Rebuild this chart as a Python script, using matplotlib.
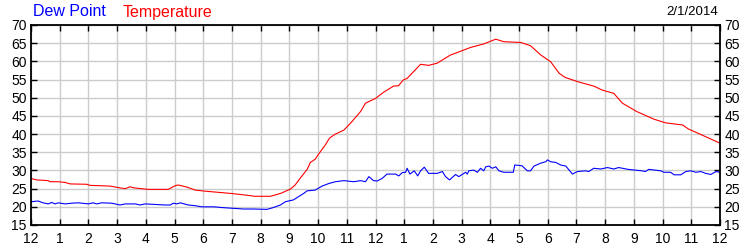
import matplotlib
matplotlib.use("Agg")
import matplotlib.pyplot as plt

plt.rcParams["font.family"] = ["Liberation Sans", "DejaVu Sans"]

# hours since midnight, temperature (F)
temp_hours = [0, 0.2, 0.6, 0.66, 0.95, 1.19, 1.36, 1.94, 2.06, 2.76, 3.1, 3.28, 3.45, 3.6,
              4.08, 4.78, 5.02, 5.13, 5.44, 5.72, 6.07, 6.36, 6.94, 7.4, 7.8, 8.34, 8.7,
              9.04, 9.2, 9.38, 9.62, 9.73, 9.9, 10.0, 10.25, 10.4, 10.6, 10.9, 11.13, 11.48,
              11.65, 12.0, 12.28, 12.63, 12.8, 12.97, 13.1, 13.57, 13.85, 14.15, 14.6, 15.07,
              15.3, 15.77, 16.19, 16.47, 17.06, 17.4, 17.75, 17.93, 18.1, 18.4, 18.6, 19.05,
              19.6, 19.9, 20.3, 20.6, 21.1, 21.7, 22.1, 22.7, 22.9, 23.3, 24.0]
temp = [27.8, 27.4, 27.2, 26.9, 26.9, 26.7, 26.3, 26.2, 25.9, 25.7, 25.2, 25.0, 25.5, 25.2,
        24.8, 24.8, 25.8, 26.0, 25.4, 24.6, 24.3, 24.1, 23.7, 23.3, 22.9, 22.9, 23.7,
        24.9, 26.0, 27.9, 30.3, 32.2, 33.1, 34.3, 37.0, 38.9, 40.0, 41.1, 43.0, 46.2,
        48.5, 49.8, 51.5, 53.2, 53.3, 54.9, 55.3, 59.2, 58.9, 59.5, 61.7, 63.1,
        63.8, 64.8, 66.1, 65.4, 65.2, 64.3, 61.8, 60.8, 59.9, 56.7, 55.6, 54.4,
        53.2, 52.1, 51.2, 48.5, 46.2, 44.1, 43.1, 42.5, 41.4, 40.0, 37.5]

# hours since midnight, dew point (F)
dew_hours = [0, 0.25, 0.42, 0.6, 0.72, 0.84, 0.95, 1.19, 1.42, 1.65, 2.0, 2.16, 2.29, 2.46,
             2.81, 3.1, 3.28, 3.63, 3.8, 3.98, 4.67, 4.85, 4.96, 5.08, 5.2, 5.48, 5.72,
             5.95, 6.36, 6.65, 6.83, 7.4, 7.75, 8.22, 8.4, 8.69, 8.86, 9.14, 9.32, 9.5,
             9.62, 9.9, 10.14, 10.37, 10.6, 10.9, 11.24, 11.48, 11.65, 11.77, 11.93, 12.06,
             12.23, 12.4, 12.7, 12.81, 12.93, 13.05, 13.1, 13.2, 13.35, 13.47, 13.57, 13.7,
             13.85, 14.15, 14.33, 14.44, 14.58, 14.79, 14.9, 15.14, 15.2, 15.25, 15.42,
             15.55, 15.66, 15.77, 15.84, 15.95, 16.07, 16.19, 16.3, 16.47, 16.65, 16.8,
             16.85, 17.1, 17.29, 17.4, 17.52, 17.75, 17.93, 17.99, 18.1, 18.28, 18.45,
             18.63, 18.86, 19.03, 19.32, 19.43, 19.6, 19.85, 20.08, 20.3, 20.47, 20.8,
             21.28, 21.4, 21.52, 21.94, 22.05, 22.28, 22.4, 22.63, 22.81, 22.98, 23.16,
             23.33, 23.5, 23.68, 23.86, 24.0]
dew = [21.4, 21.6, 21.1, 20.8, 21.2, 20.8, 21.1, 20.8, 21.0, 21.1, 20.8, 21.1, 20.8, 21.1,
       21.0, 20.5, 20.8, 20.8, 20.5, 20.8, 20.5, 20.5, 21.0, 20.8, 21.1, 20.5, 20.3,
       20.0, 20.0, 19.8, 19.7, 19.4, 19.4, 19.3, 19.7, 20.5, 21.4, 21.9, 22.8, 23.7,
       24.4, 24.6, 25.7, 26.4, 26.9, 27.2, 26.9, 27.2, 26.9, 28.3, 27.2, 27.1,
       27.8, 29.0, 29.0, 28.5, 29.4, 29.5, 30.6, 29.0, 29.9, 28.5, 29.9, 30.9,
       29.2, 29.2, 29.7, 28.3, 27.4, 28.9, 28.3, 29.5, 29.0, 29.9, 30.1,
       29.5, 30.6, 29.9, 31.0, 31.2, 30.6, 31.0, 29.9, 29.5, 29.5, 29.5,
       31.5, 31.3, 29.9, 29.9, 31.2, 32.0, 32.4, 32.9, 32.4, 32.2, 31.5,
       31.2, 29.0, 29.7, 29.9, 29.7, 30.6, 30.4, 30.8, 30.4, 30.8, 30.3,
       29.9, 29.7, 30.3, 29.9, 29.5, 29.5, 28.8, 28.8, 29.7, 29.9, 29.5,
       29.7, 29.2, 28.9, 29.7, 29.5]

hour_labels = ["12", "1", "2", "3", "4", "5", "6", "7", "8", "9", "10", "11",
               "12", "1", "2", "3", "4", "5", "6", "7", "8", "9", "10", "11", "12"]
y_ticks = [15, 20, 25, 30, 35, 40, 45, 50, 55, 60, 65, 70]
date_label = "2/1/2014"

fig = plt.figure(figsize=(7.5, 2.5), dpi=100)
ax = fig.add_axes([31 / 750, 0.1, 689 / 750, 0.8])

ax.plot(dew_hours, dew, color="#0000ff", lw=0.8)
ax.plot(temp_hours, temp, color="#ff0000", lw=0.8)

ax.set_xlim(0, 24)
ax.set_ylim(15, 70)
ax.set_xticks(range(25))
ax.set_xticklabels(hour_labels)
ax.set_yticks(y_ticks)
ax.grid(True, color="#cccccc", lw=1.0)
ax.set_axisbelow(True)
ax.tick_params(direction="in", length=4, width=1, colors="black",
               top=True, right=True, labelright=True, labelsize=10, pad=3)
ax.tick_params(axis="x", pad=5)
for s in ax.spines.values():
    s.set_linewidth(1.3)

fig.text(33 / 750, 0.952, "Dew Point", color="#0000ff", fontsize=11.5, va="center")
fig.text(123 / 750, 0.952, "Temperature", color="#ff0000", fontsize=11.5, va="center")
fig.text(718 / 750, 0.952, date_label, color="black", fontsize=9.5, va="center", ha="right")

fig.savefig("out.png", dpi=100)
